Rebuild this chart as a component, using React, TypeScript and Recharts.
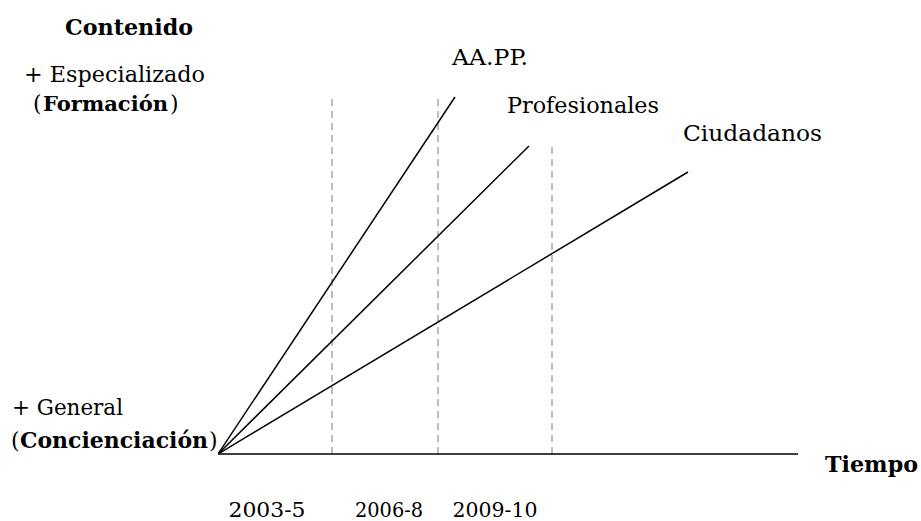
import React from 'react';
import { LineChart, Line, XAxis, YAxis, ReferenceLine } from 'recharts';

// abstract units: time along x, content depth along y
const groups = ['AA.PP.', 'Profesionales', 'Ciudadanos'];
const groupEndTime = [237, 311, 470];
const groupEndContent = [357, 308, 282];

const periodLabels = ['2003-5', '2006-8', '2009-10'];
const periodLabelAt = [49, 171, 277];
const periodLabelWidth = [77, 68, 85];
const periodBounds = [114, 220, 334];
const periodBoundTop = [355, 357, 312];

const FONT = '"DejaVu Serif", serif';

const PeriodTick = ({ x, y, payload }: any) => {
  const i = periodLabelAt.indexOf(payload.value);
  return (
    <text
      x={x}
      y={y + 55}
      textAnchor="middle"
      fontFamily={FONT}
      fontSize={21}
      fill="#000"
      textLength={periodLabelWidth[i]}
      lengthAdjust="spacingAndGlyphs"
    >
      {periodLabels[i]}
    </text>
  );
};

// stretch a label to the width it has in the original layout
const Lbl = ({ x, y, w, size = 22, bold = false, children }: any) => (
  <text
    x={x}
    y={y}
    fontSize={size}
    fontWeight={bold ? 'bold' : 'normal'}
    textLength={w}
    lengthAdjust="spacingAndGlyphs"
  >
    {children}
  </text>
);

const Paren = ({ x, y, children }: any) => (
  <text x={x} y={y} fontSize={22}>{children}</text>
);

export default function App() {
  return (
    <div style={{ position: 'relative', width: 921, height: 521 }}>
      <style>{'body { margin: 0; }'}</style>
      <LineChart width={921} height={521} margin={{ top: 75, right: 123, bottom: 0, left: 218 }}>
        <XAxis
          type="number"
          dataKey="x"
          domain={[0, 580]}
          ticks={periodLabelAt}
          tick={<PeriodTick />}
          tickLine={false}
          axisLine={{ stroke: '#000', strokeWidth: 1.5 }}
          height={67}
          allowDataOverflow
        />
        <YAxis
          type="number"
          domain={[0, 379]}
          tick={false}
          tickLine={false}
          axisLine={{ stroke: '#000', strokeWidth: 1.5 }}
          width={0}
          allowDataOverflow
        />
        {periodBounds.map((b, i) => (
          <ReferenceLine
            key={b}
            segment={[{ x: b, y: 0 }, { x: b, y: periodBoundTop[i] }]}
            stroke="#a6a6a6"
            strokeWidth={1.5}
            strokeDasharray="7 5"
          />
        ))}
        {groups.map((g, i) => (
          <Line
            key={g}
            name={g}
            data={[{ x: 0, y: 0 }, { x: groupEndTime[i], y: groupEndContent[i] }]}
            dataKey="y"
            stroke="#000"
            strokeWidth={1.5}
            dot={false}
            isAnimationActive={false}
          />
        ))}
      </LineChart>
      <svg
        width={921}
        height={521}
        style={{ position: 'absolute', left: 0, top: 0, pointerEvents: 'none' }}
        fontFamily={FONT}
      >
        <Lbl x={65} y={35} w={128} bold>Contenido</Lbl>
        <Lbl x={24} y={82} w={181}>+ Especializado</Lbl>
        <Paren x={33} y={111}>(</Paren>
        <Lbl x={43} y={111} w={125} size={21} bold>Formación</Lbl>
        <Paren x={170} y={111}>)</Paren>
        <Lbl x={12} y={415} w={111}>+ General</Lbl>
        <Paren x={11} y={448}>(</Paren>
        <Lbl x={20} y={448} w={188} bold>Concienciación</Lbl>
        <Paren x={209} y={448}>)</Paren>
        <Lbl x={825} y={472} w={93} bold>Tiempo</Lbl>
        <Lbl x={452} y={65} w={76}>{groups[0]}</Lbl>
        <Lbl x={507} y={113} w={152}>{groups[1]}</Lbl>
        <Lbl x={683} y={141} w={139}>{groups[2]}</Lbl>
      </svg>
    </div>
  );
}
